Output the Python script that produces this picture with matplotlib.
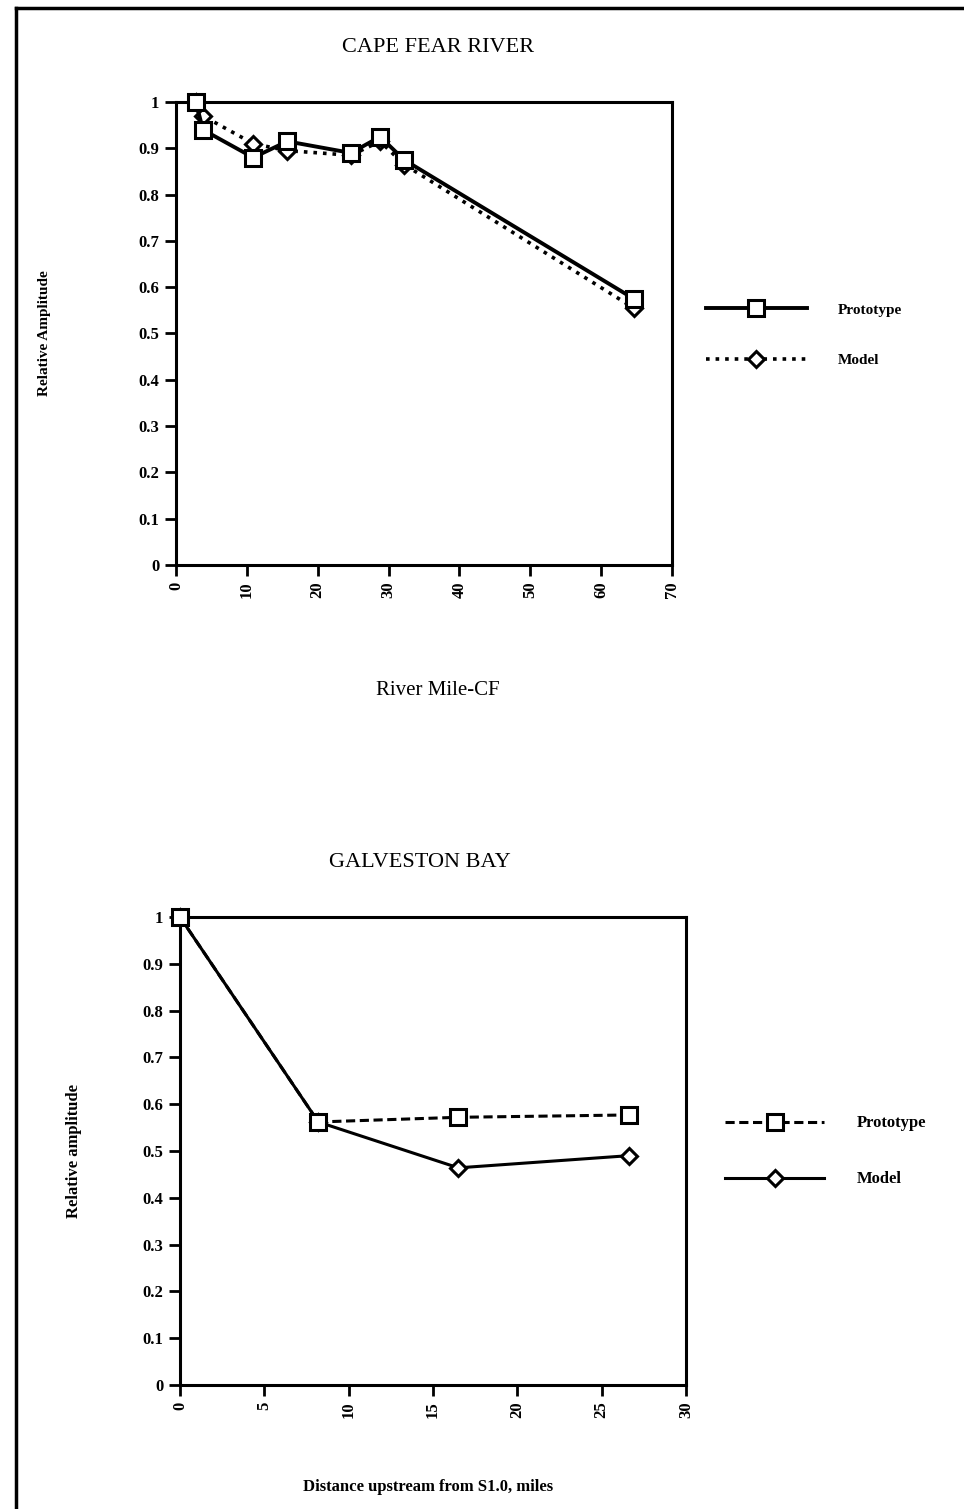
import matplotlib
matplotlib.use("Agg")
import matplotlib.pyplot as plt
from matplotlib.lines import Line2D

plt.rcParams['font.family'] = ['Liberation Serif', 'DejaVu Serif']

# Cape Fear River data
cf_miles = [2.8, 3.8, 10.9, 15.7, 24.7, 28.8, 32.2, 64.6]
cf_proto = [1.0, 0.94, 0.88, 0.915, 0.89, 0.925, 0.875, 0.575]
cf_model = [1.0, 0.97, 0.91, 0.895, 0.885, 0.915, 0.865, 0.555]

# Galveston Bay data
gb_miles = [0.0, 8.2, 16.5, 26.6]
gb_proto = [1.0, 0.562, 0.572, 0.577]
gb_model = [1.0, 0.562, 0.464, 0.49]

y_ticks = [0, 0.1, 0.2, 0.3, 0.4, 0.5, 0.6, 0.7, 0.8, 0.9, 1]
y_labels = ["0", "0.1", "0.2", "0.3", "0.4", "0.5", "0.6", "0.7", "0.8", "0.9", "1"]

fig = plt.figure(figsize=(9.64, 15.09), dpi=100)


def style_axes(ax, xmax, xstep):
    ax.set_xlim(0, xmax)
    ax.set_ylim(0, 1)
    ax.set_yticks(y_ticks)
    ax.set_yticklabels(y_labels, fontsize=12, fontweight='bold')
    xt = list(range(0, xmax + 1, xstep))
    ax.set_xticks(xt)
    ax.set_xticklabels([str(v) for v in xt], rotation=90, fontsize=12, fontweight='bold')
    ax.tick_params(direction='out', length=8, width=2, pad=4)
    for s in ax.spines.values():
        s.set_linewidth(2.2)


# top chart
ax1 = fig.add_axes([0.1826, 0.6256, 0.5145, 0.3068])
ax1.plot(cf_miles, cf_proto, color='black', lw=2.8, marker='s', ms=11,
         mfc='white', mec='black', mew=2.2, label='Prototype', zorder=3, clip_on=False)
ax1.plot(cf_miles, cf_model, color='black', lw=2.6, ls=':', marker='D', ms=8,
         mfc='white', mec='black', mew=2.2, label='Model', zorder=2, clip_on=False)
style_axes(ax1, 70, 10)
ax1.set_ylabel('Relative Amplitude', fontsize=11, fontweight='bold')
ax1.yaxis.set_label_coords(-0.252, 0.5)
fig.text(0.454, 0.9685, 'CAPE FEAR RIVER', ha='center', va='center', fontsize=16)
fig.text(0.454, 0.5427, 'River Mile-CF', ha='center', va='center', fontsize=15)
ax1.legend(loc='center left', bbox_to_anchor=(0.718, 0.778), bbox_transform=fig.transFigure,
           frameon=False, handlelength=6.6, handletextpad=2.0, labelspacing=2.4,
           prop={'size': 11, 'weight': 'bold'})

# bottom chart
ax2 = fig.add_axes([0.1867, 0.0822, 0.525, 0.3101])
ax2.plot(gb_miles, gb_proto, color='black', lw=2.2, ls=(0, (3, 1.5)), marker='s', ms=11,
         mfc='white', mec='black', mew=2.2, label='Prototype', zorder=3, clip_on=False)
ax2.plot(gb_miles, gb_model, color='black', lw=2.2, marker='D', ms=8,
         mfc='white', mec='black', mew=2.2, label='Model', zorder=2, clip_on=False)
style_axes(ax2, 30, 5)
ax2.set_ylabel('Relative amplitude', fontsize=12, fontweight='bold')
ax2.yaxis.set_label_coords(-0.193, 0.5)
fig.text(0.436, 0.4287, 'GALVESTON BAY', ha='center', va='center', fontsize=16)
fig.text(0.444, 0.0146, 'Distance upstream from S1.0, miles', ha='center', va='center',
         fontsize=12, fontweight='bold')
ax2.legend(loc='center left', bbox_to_anchor=(0.737, 0.237), bbox_transform=fig.transFigure,
           frameon=False, handlelength=5.9, handletextpad=2.0, labelspacing=2.4,
           prop={'size': 12, 'weight': 'bold'})

# page border
fig.add_artist(Line2D([0.017, 0.017], [0.0, 0.9947], transform=fig.transFigure, color='black', lw=2.5))
fig.add_artist(Line2D([0.017, 1.0], [0.9947, 0.9947], transform=fig.transFigure, color='black', lw=2.5))

fig.savefig('out.png', dpi=100)
